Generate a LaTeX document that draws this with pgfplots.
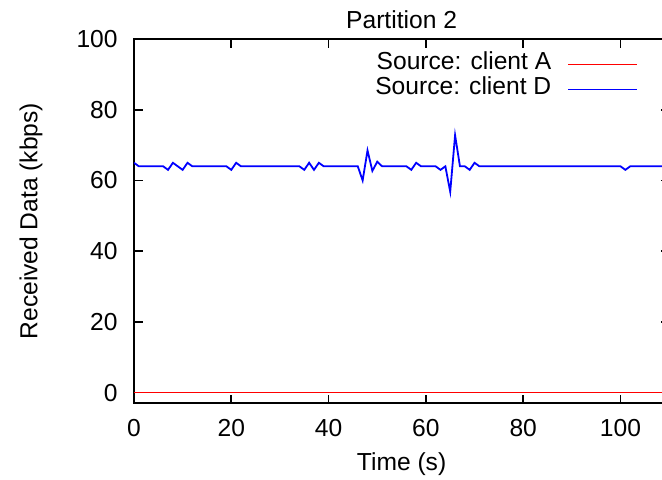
\documentclass[border=0pt]{standalone}
\usepackage{fontspec}
\setmainfont{Liberation Sans}
\usepackage{pgfplots}
\pgfplotsset{compat=1.18}

\begin{document}
\fontsize{12.3pt}{14.8pt}\selectfont
\begin{tikzpicture}
\begin{axis}[
  scale only axis,
  width=267.5pt, height=182pt,
  xmin=0, xmax=110, ymin=-3, ymax=100,
  xtick={0,20,...,100}, ytick={0,20,...,100},
  xtick pos=both, ytick pos=both,
  tick align=inside,
  major tick length=4.3pt,
  tick style={black, line width=0.8pt},
  axis line style={black, line width=0.9pt},
  /pgf/number format/assume math mode=true,
  yticklabel style={xshift=-3.9pt},
  xticklabel style={yshift=-3.9pt},
  title={Partition 2},
  every axis title shift=0pt,
  title style={at={(axis description cs:0.5,1.0522)}, anchor=center, inner sep=0pt},
  xlabel={Time (s)},
  xlabel style={at={(axis description cs:0.5,-0.1676)}, anchor=center, inner sep=0pt},
  ylabel={Received Data (kbps)},
  ylabel style={at={(axis description cs:-0.1925,0.5)}, anchor=center, inner sep=0pt},
  legend plot pos=right,
  legend cell align=right,
  legend image code/.code={\draw[#1] (0pt,0pt) -- (34.5pt,0pt);},
  legend style={draw=none, fill=none, inner sep=0pt, outer sep=0pt,
    at={(axis description cs:0.942,0.9643)}, anchor=north east,
    column sep=8pt, row sep=0pt,
    nodes={inner sep=0pt, text height=8.75pt, text depth=3.75pt}},
]
% client A: nothing received
\addplot[red, line width=0.9pt] coordinates {(0,0) (110,0)};
\addlegendentry{Source: client A}
% client D: about 64 kbps with small jitter
\addplot[blue, line width=0.9pt] coordinates {
(0,65) (1,64) (6,64) (7,63) (8,65) (9,64) (10,63) (11,65) (12,64)
(19,64) (20,63) (21,65) (22,64)
(34,64) (35,63) (36,65) (37,63) (38,65) (39,64)
(46,64) (47,60) (48,68.5) (49,62.7) (50,65.3) (51,64)
(56,64) (57,63) (58,65) (59,64)
(62,64) (63,63) (64,64) (65,56.8) (66,72.8) (67,64) (68,64) (69,63) (70,65) (71,64)
(100,64) (101,63) (102,64) (110,64)};
\addlegendentry{Source: client D}
\coordinate (bl) at (axis cs:-27.54,-24.65);
\coordinate (tr) at (axis cs:108.53,111.05);
\end{axis}
\pgfresetboundingbox
\useasboundingbox (bl) rectangle (tr);
\end{tikzpicture}
\end{document}
